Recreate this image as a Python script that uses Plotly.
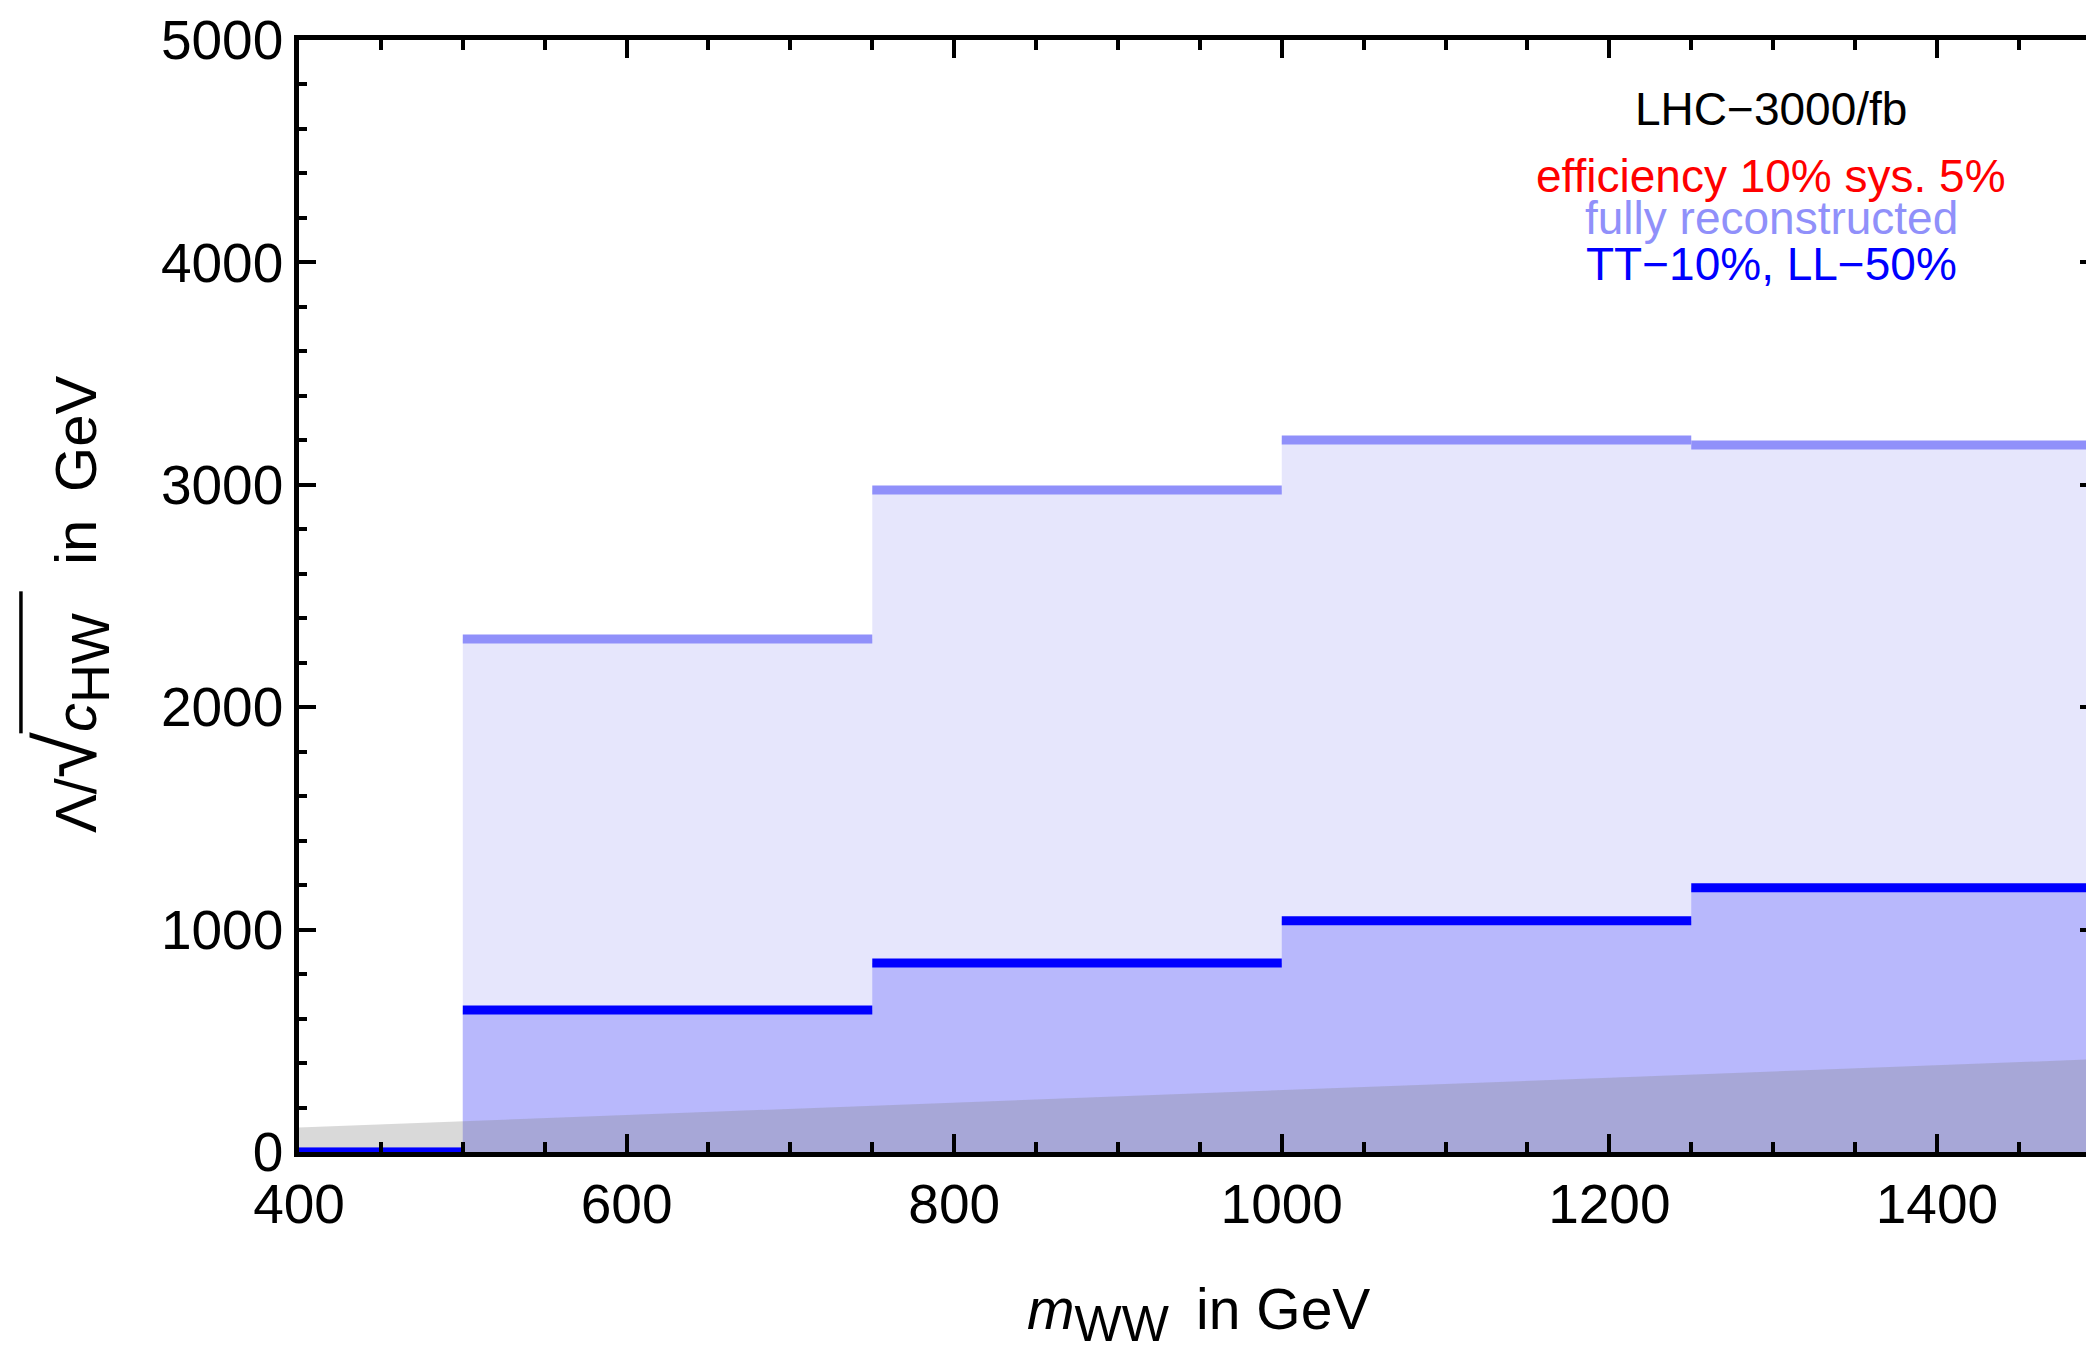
import plotly.graph_objects as go

# Bin edges in m_WW (GeV) and the bounds per bin
bin_edges = [400, 500, 750, 1000, 1250, 1500]
full_reco = [0, 2307, 2977, 3201, 3179]      # fully reconstructed
tt_ll = [0, 638, 850, 1040, 1188]            # TT-10%, LL-50%

# Grey validity band: upper edge sampled at the ends of the mass range
band_x = [400, 1500]
band_y = [110, 418]

LIGHT = "#9090fa"
DARK = "#0000ff"
FONT = "Liberation Sans, Arial, sans-serif"
NB = "\u00a0"


def step_outline(edges, vals, start):
    xs, ys = [], []
    for i in range(start, len(vals)):
        xs += [edges[i], edges[i + 1]]
        ys += [vals[i], vals[i]]
    return xs, ys


def step_segments(edges, vals, start):
    xs, ys = [], []
    for i in range(start, len(vals)):
        xs += [edges[i], edges[i + 1], None]
        ys += [vals[i], vals[i], None]
    return xs, ys


fig = go.Figure()

# filled areas under each step curve (bins from 500 GeV on)
fx, fy = step_outline(bin_edges, full_reco, 1)
fig.add_trace(go.Scatter(x=fx, y=fy, mode="lines", line=dict(width=0),
                         fill="tozeroy", fillcolor="#e6e6fc", hoverinfo="skip"))
dx, dy = step_outline(bin_edges, tt_ll, 1)
fig.add_trace(go.Scatter(x=dx, y=dy, mode="lines", line=dict(width=0),
                         fill="tozeroy", fillcolor="#b8b8fc", hoverinfo="skip"))

# grey band
fig.add_trace(go.Scatter(x=band_x, y=band_y, mode="lines", line=dict(width=0),
                         fill="tozeroy", fillcolor="rgba(128,128,128,0.3)",
                         hoverinfo="skip"))

# horizontal bin segments
sx, sy = step_segments(bin_edges, full_reco, 0)
fig.add_trace(go.Scatter(x=sx, y=sy, mode="lines",
                         line=dict(color=LIGHT, width=9), connectgaps=False))
tx, ty = step_segments(bin_edges, tt_ll, 0)
fig.add_trace(go.Scatter(x=tx, y=ty, mode="lines",
                         line=dict(color=DARK, width=9), connectgaps=False))

# right-hand frame ticks
fig.add_trace(go.Scatter(x=[None], y=[None], yaxis="y2", showlegend=False))

axis_common = dict(
    showgrid=False, zeroline=False, showline=True, linecolor="black",
    linewidth=4.5, ticks="inside", tickcolor="black", tickwidth=3.5,
    tickfont=dict(family=FONT, size=55, color="black"),
)

fig.update_layout(
    width=2086, height=1349,
    margin=dict(l=299, r=0, t=40, b=197),
    plot_bgcolor="white", paper_bgcolor="white",
    showlegend=False,
    xaxis=dict(range=[400, 1491], tick0=400, dtick=200, ticklen=18,
               mirror="ticks",
               minor=dict(dtick=50, ticklen=10, tickwidth=3.5,
                          ticks="inside", tickcolor="black"),
               **axis_common),
    yaxis=dict(range=[0, 5000], tick0=0, dtick=1000, ticklen=17,
               minor=dict(dtick=200, ticklen=8, tickwidth=3.5,
                          ticks="inside", tickcolor="black"),
               **axis_common),
    yaxis2=dict(range=[0, 5000], overlaying="y", side="right", anchor="x",
                showgrid=False, zeroline=False, showline=False,
                ticks="inside", tick0=0, dtick=1000, ticklen=6,
                tickwidth=3.5, tickcolor="black", showticklabels=False),
)

labels = [
    ("LHC\u22123000/fb", "black", 0.938),
    ("efficiency 10% sys. 5%", "#ff0000", 0.878),
    ("fully reconstructed", LIGHT, 0.840),
    ("TT\u221210%, LL\u221250%", DARK, 0.799),
]
for text, col, yy in labels:
    fig.add_annotation(text=text, xref="paper", yref="paper", x=0.824, y=yy,
                       xanchor="center", yanchor="middle", showarrow=False,
                       font=dict(family=FONT, size=46, color=col))

fig.add_annotation(
    text="<i>m</i><sub><span style='font-size:50px'>WW</span></sub>"
         + NB + "\u2009in" + NB + "GeV",
    xref="paper", yref="paper", x=0.5035, y=-0.1457, xanchor="center",
    yanchor="middle", showarrow=False,
    font=dict(family=FONT, size=57, color="black"))
fig.add_annotation(
    text="\u039b/<span style='font-size:84px'>\u221a</span>"
         "<i>c</i><sub><span style='font-size:54px'>HW</span></sub>"
         + NB * 3 + "in" + NB + "\u2009GeV",
    xref="paper", yref="paper", x=-0.128, y=0.493,
    textangle=-90, xanchor="center", yanchor="middle", showarrow=False,
    font=dict(family=FONT, size=58, color="black"))

# vinculum of the square root in the y title
fig.add_shape(type="line", xref="paper", yref="paper",
              x0=-0.1556, x1=-0.1556, y0=0.3765, y1=0.5042,
              line=dict(color="black", width=3.5))

fig.write_html("out.html")
